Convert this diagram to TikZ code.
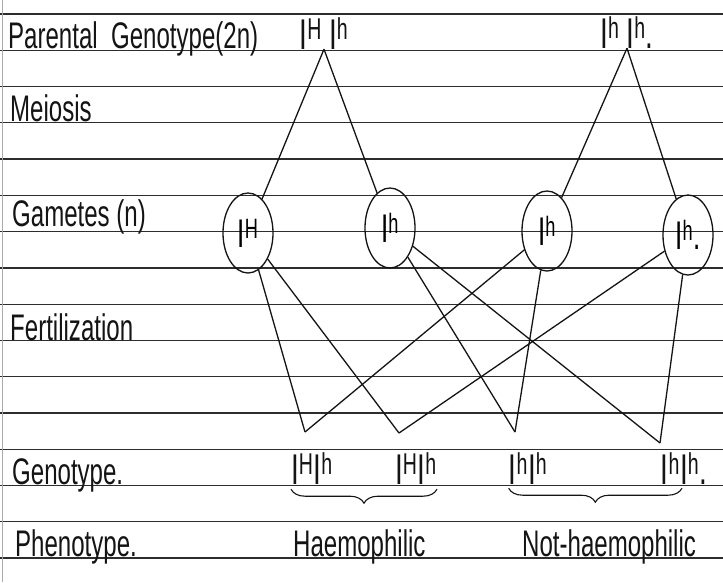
\documentclass[tikz,border=0pt]{standalone}
\usepackage{fontspec}
\setmainfont{Liberation Sans}[FakeStretch=0.65]
\usepackage{tikz}
\usetikzlibrary{shapes.geometric,decorations.pathreplacing,positioning}
\definecolor{ink}{RGB}{20,20,20}
\definecolor{rulecol}{RGB}{45,45,45}
\definecolor{margincol}{RGB}{170,170,170}
\newcommand\allele[1]{I\textsuperscript{#1}}

\begin{document}
\begin{tikzpicture}[x=1pt, y=-1pt,
  hand/.style={font=\fontsize{37}{39}\selectfont, inner sep=0pt, anchor=base west, text=ink},
  geno/.style={font=\fontsize{43}{45}\selectfont, inner sep=0pt, anchor=base, text=ink},
  gamete/.style={ellipse, draw=ink, line width=1.3pt, minimum width=50pt,
    minimum height=80pt, inner sep=0pt, font=\fontsize{40}{42}\selectfont},
  link/.style={draw=ink, line width=1.3pt},
  ruled/.style={draw=rulecol, line width=1.3pt},
  bracket/.style={draw=ink, line width=1.1pt, decorate,
    decoration={brace, mirror, amplitude=14pt}}
]
\useasboundingbox (0,0) rectangle (723,582);
\fill[white] (0,0) rectangle (723,582);
\foreach \k in {0,...,15}
  \draw[ruled] (0,{14+36.27*\k}) -- (723,{14+36.27*\k});
\draw[margincol, line width=1pt] (2,0) -- (2,582);

\node[hand] (lparent) at (8,48) {Parental\ \ Genotype(2n)};
\node[hand] (lmeiosis) at (10,121) {Meiosis};
\node[hand] (lgamete) at (12,226) {Gametes (n)};
\node[hand] (lfert) at (10,340) {Fertilization};
\node[hand] (lgeno) at (12,484) {Genotype.};
\node[hand] (lpheno) at (15,556) {Phenotype.};

\node[geno] (p1) at (324,49) {\allele{H}\,\allele{h}};
\node[geno] (p2) at (627,48) {\allele{h}\,\allele{h}.};

\node[gamete] (g1) at (248,233) {\allele{H}};
\node[gamete] (g2) at (390,228) {\allele{h}};
\node[gamete] (g3) at (547,231) {\allele{h}};
\node[gamete] (g4) at (688,235) {\allele{h}.};

\coordinate (v1) at (305,432);
\coordinate (v2) at (399,433);
\coordinate (v3) at (515,432);
\coordinate (v4) at (660,443);

\node[geno] (f1) at (312,484) {\allele{H}\allele{h}};
\node[geno] (f2) at (416,484) {\allele{H}\allele{h}};
\node[geno] (f3) at (528,484) {\allele{h}\allele{h}};
\node[geno] (f4) at (684,484) {\allele{h}\allele{h}.};

\node[hand] (haem) at (293,556) {Haemophilic};
\node[hand] (nothaem) at (522,556) {Not-haemophilic};

\draw[link] (p1.south) -- (g1);
\draw[link] (p1.south) -- (g2);
\draw[link] (p2.south) -- (g3);
\draw[link] (p2.south) -- (g4);
\draw[link] (g1) -- (v1);
\draw[link] (g3) -- (v1);
\draw[link] (g1) -- (v2);
\draw[link] (g4) -- (v2);
\draw[link] (g2) -- (v3);
\draw[link] (g3) -- (v3);
\draw[link] (g2) -- (v4);
\draw[link] (g4) -- (v4);

\draw[bracket] ([yshift=-5pt]f1.south west) -- ([yshift=-5pt]f2.south east);
\draw[bracket] ([yshift=-4pt]f3.south west) -- ([yshift=-4pt,xshift=-2pt]f4.south);
\end{tikzpicture}
\end{document}
